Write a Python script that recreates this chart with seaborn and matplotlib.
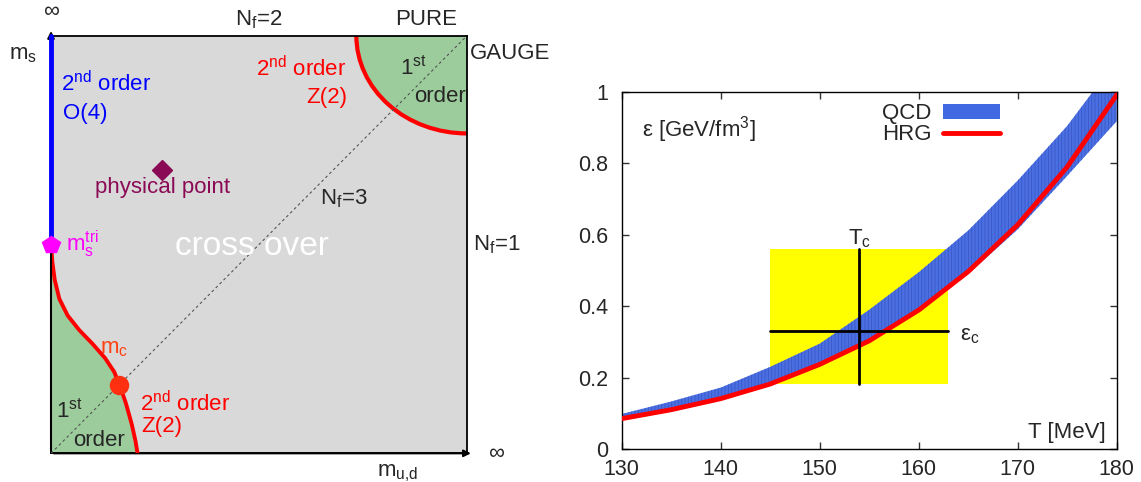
import matplotlib
matplotlib.use('Agg')
import matplotlib.pyplot as plt
import seaborn as sns
from matplotlib.patches import Ellipse, Patch
from matplotlib.lines import Line2D

# ---- data: right panel (energy density vs T) ----
T = [130, 135, 140, 145, 150, 155, 160, 165, 170, 175, 180]
hrg = [0.085, 0.110, 0.141, 0.182, 0.237, 0.303, 0.389, 0.497, 0.628, 0.790, 0.992]
qcd_lo = [0.080, 0.105, 0.136, 0.177, 0.232, 0.298, 0.384, 0.490, 0.615, 0.765, 0.918]
qcd_hi = [0.098, 0.133, 0.172, 0.230, 0.295, 0.390, 0.495, 0.612, 0.752, 0.905, 1.09]
box_T = [145, 163]
box_eps = [0.182, 0.559]
Tc = 154
eps_c = 0.33

# ---- data: left panel (schematic phase diagram) ----
crit_x = [0.0, 0.003, 0.009, 0.020, 0.040, 0.068, 0.100, 0.130, 0.152, 0.165, 0.180, 0.194, 0.203, 0.208]
crit_y = [0.505, 0.460, 0.415, 0.370, 0.330, 0.295, 0.262, 0.228, 0.195, 0.163, 0.120, 0.070, 0.030, 0.0]
o4_y = [0.505, 1.0]
diag = [0.0, 1.0]
phys_pt = (0.266, 0.678)
tri_pt = (0.0, 0.499)
mc_pt = (0.163, 0.164)
pg_radii = (0.266, 0.234)

sns.set_style('ticks')
plt.rcParams['font.family'] = ['Liberation Sans', 'DejaVu Sans']
plt.rcParams['mathtext.fontset'] = 'custom'
plt.rcParams['mathtext.rm'] = 'Liberation Sans'
plt.rcParams['mathtext.default'] = 'regular'
plt.rcParams['hatch.linewidth'] = 0.6

fs = 16
fig = plt.figure(figsize=(11.41, 4.82), dpi=100)

# ================= left panel =================
ax1 = fig.add_axes([0.0447, 0.0595, 0.3646, 0.8664])
ax1.set_xlim(0, 1)
ax1.set_ylim(0, 1)
ax1.set_facecolor('#d9d9d9')
ax1.set_xticks([])
ax1.set_yticks([])
for s in ax1.spines.values():
    s.set_color('black')
    s.set_linewidth(1.3)

green = '#9ccc9c'
ax1.fill_betweenx(crit_y, 0, crit_x, color=green, lw=0, zorder=1)
ax1.add_patch(Ellipse((1, 1), 2 * pg_radii[0], 2 * pg_radii[1], facecolor=green,
                      edgecolor='red', lw=3, zorder=2))
ax1.plot(diag, diag, color='#555555', lw=0.8, ls=(0, (2.5, 2.5)), zorder=3)
ax1.plot(crit_x, crit_y, color='red', lw=2.8, zorder=4)
ax1.plot([0, 0], o4_y, color='blue', lw=3.5, zorder=5, clip_on=False)

# axis arrows
ax1.annotate('', xy=(0, 1.018), xytext=(0, 0), xycoords='axes fraction',
             arrowprops=dict(arrowstyle='-|>', color='black', lw=1.5, mutation_scale=10),
             zorder=4)
ax1.annotate('', xy=(1.016, 0), xytext=(0, 0), xycoords='axes fraction',
             arrowprops=dict(arrowstyle='-|>', color='black', lw=1.5, mutation_scale=10))

ax1.plot(*phys_pt, marker='D', ms=10, color='#8b0a55', zorder=6)
ax1.plot(*tri_pt, marker='p', ms=13, color='#ff00ff', zorder=7, clip_on=False)
ax1.plot(*mc_pt, marker='o', ms=13, color='#ff3010', zorder=7)

t = dict(transform=ax1.transAxes, fontsize=fs)
ax1.text(0.0, 1.058, '∞', ha='center', va='center', **t)
ax1.text(1.069, 0.0, '∞', ha='center', va='center', **t)
ax1.text(0.50, 1.025, '$N_f$=2', ha='center', va='baseline', **t)
ax1.text(0.901, 1.025, 'PURE', ha='center', va='baseline', **t)
ax1.text(1.006, 0.945, 'GAUGE', ha='left', va='baseline', **t)
ax1.text(1.015, 0.485, '$N_f$=1', ha='left', va='baseline', **t)
ax1.text(-0.068, 0.955, '$m_s$', ha='center', va='center', **t)
ax1.text(0.834, -0.047, '$m_{u{,}d}$', ha='center', va='center', **t)

ax1.text(0.025, 0.868, '$2^{nd}$ order', color='blue', ha='left', va='baseline', **t)
ax1.text(0.030, 0.800, 'O(4)', color='blue', ha='left', va='baseline', **t)
ax1.text(0.105, 0.624, 'physical point', color='#8b0a55', ha='left', va='baseline', **t)
ax1.text(0.647, 0.597, '$N_f$=3', ha='left', va='baseline', **t)
ax1.text(0.298, 0.475, 'cross over', color='white', ha='left', va='baseline',
         transform=ax1.transAxes, fontsize=24)
ax1.text(0.035, 0.483, '$m_s^{tri}$', color='#ff00ff', ha='left', va='baseline', **t)
ax1.text(0.118, 0.239, '$m_c$', color='#ff4010', ha='left', va='baseline', **t)
ax1.text(0.214, 0.100, '$2^{nd}$ order', color='red', ha='left', va='baseline', **t)
ax1.text(0.216, 0.052, 'Z(2)', color='red', ha='left', va='baseline', **t)
ax1.text(0.011, 0.086, '$1^{st}$', ha='left', va='baseline', **t)
ax1.text(0.053, 0.018, 'order', ha='left', va='baseline', **t)
ax1.text(0.709, 0.904, '$2^{nd}$ order', color='red', ha='right', va='baseline', **t)
ax1.text(0.713, 0.839, 'Z(2)', color='red', ha='right', va='baseline', **t)
ax1.text(0.839, 0.906, '$1^{st}$', ha='left', va='baseline', **t)
ax1.text(0.873, 0.842, 'order', ha='left', va='baseline', **t)

# ================= right panel =================
ax2 = fig.add_axes([0.5449, 0.0685, 0.4338, 0.7407])
ax2.fill_between(box_T, box_eps[0], box_eps[1], color='#ffff00', lw=0, zorder=1)
ax2.fill_between(T, qcd_lo, qcd_hi, facecolor='#4a6fe3', edgecolor='#3b58c4',
                 hatch='|||||', lw=0, zorder=2)
sns.lineplot(x=T, y=hrg, color='#ff0000', lw=3.5, ax=ax2, zorder=3)
ax2.plot([Tc, Tc], box_eps, color='black', lw=2, zorder=4)
ax2.plot(box_T, [eps_c, eps_c], color='black', lw=2, zorder=4)

ax2.set_xlim(130, 180)
ax2.set_ylim(0, 1)
ax2.set_xticks([130, 140, 150, 160, 170, 180])
ax2.set_yticks([0, 0.2, 0.4, 0.6, 0.8, 1])
ax2.set_yticklabels(['0', '0.2', '0.4', '0.6', '0.8', '1'])
ax2.tick_params(direction='in', length=5, width=1, top=True, right=True,
                labelsize=15.5, color='#333333')
ax2.tick_params(axis='x', pad=7)
ax2.tick_params(axis='y', pad=10)
for lab in ax2.get_yticklabels():
    lab.set_va('center_baseline')
for s in ax2.spines.values():
    s.set_linewidth(1)
    s.set_color('black')

ax2.text(0.041, 0.894, 'ε [GeV/fm$^3$]', transform=ax2.transAxes, fontsize=fs,
         ha='left', va='center')
ax2.text(0.978, 0.045, 'T [MeV]', transform=ax2.transAxes, fontsize=fs,
         ha='right', va='center')
ax2.text(Tc, 0.589, '$T_c$', fontsize=fs, ha='center', va='center')
ax2.text(164.2, 0.318, 'ε$_c$', fontsize=fs, ha='left', va='center')

handles = [Patch(facecolor='#4169e1', edgecolor='none'),
           Line2D([], [], color='#ff0000', lw=3.5)]
ax2.legend(handles, ['QCD', 'HRG'], loc='upper right', bbox_to_anchor=(0.765, 0.968),
           frameon=False, markerfirst=False, fontsize=fs, handlelength=2.6,
           handletextpad=0.5, labelspacing=0.0, borderpad=0, borderaxespad=0,
           handleheight=0.65)

fig.savefig('out.png', dpi=100)
